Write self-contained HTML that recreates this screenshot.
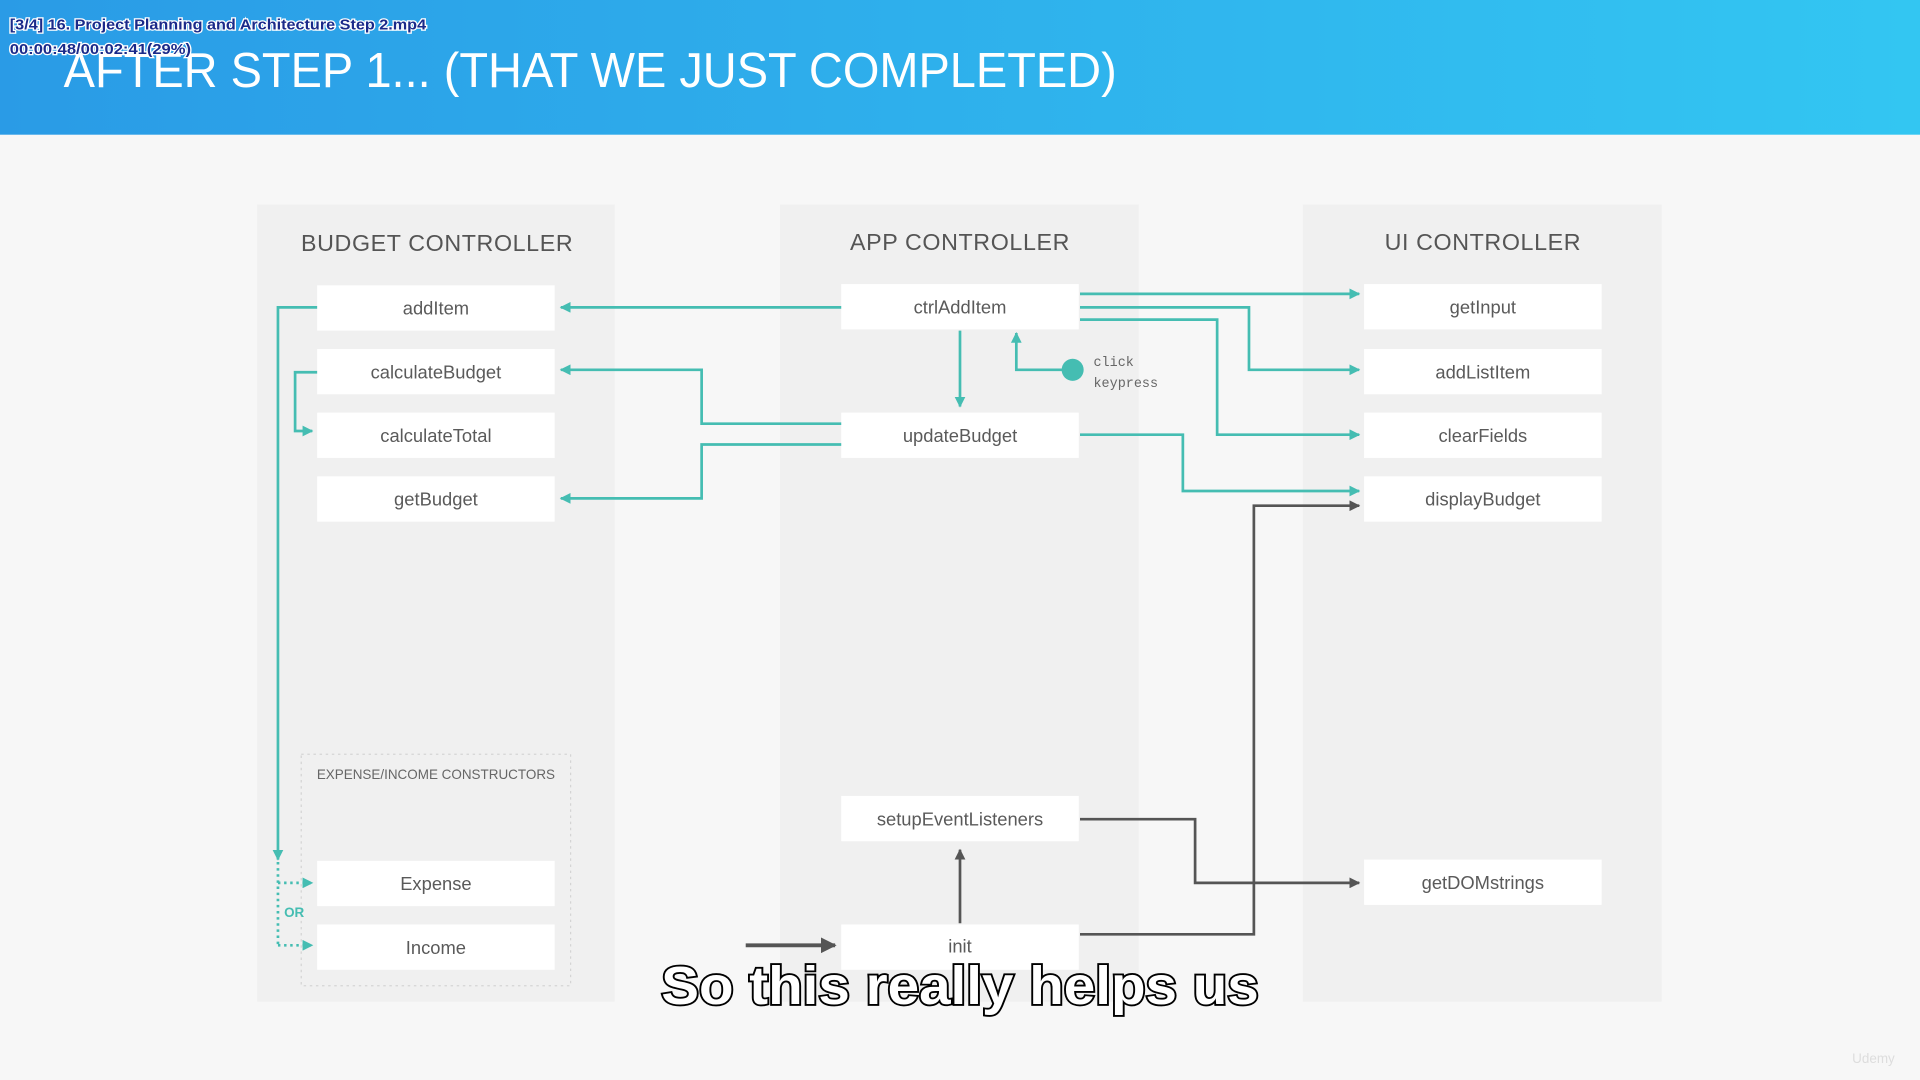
<!DOCTYPE html>
<html><head><meta charset="utf-8"><style>
html,body{margin:0;padding:0;width:1920px;height:1080px;overflow:hidden;background:#f7f7f7}
svg{display:block}
text{font-family:"Liberation Sans",sans-serif}
text.mono{font-family:"Liberation Mono",monospace}
</style></head><body>
<svg width="1920" height="1080" viewBox="0 0 1568 882" xmlns="http://www.w3.org/2000/svg">
<defs>
<linearGradient id="hg" x1="0" x2="1" y1="0" y2="0"><stop offset="0" stop-color="#2a9be6"/><stop offset="1" stop-color="#33c6f2"/></linearGradient>
<marker id="at" viewBox="0 0 10 10" refX="9" refY="5" markerWidth="4" markerHeight="4" orient="auto"><path d="M0,0L10,5L0,10z" fill="#45bdb2"/></marker>
<marker id="ad" viewBox="0 0 10 10" refX="9" refY="5" markerWidth="4" markerHeight="4" orient="auto"><path d="M0,0L10,5L0,10z" fill="#555"/></marker>
</defs>
<rect width="1568" height="882" fill="#f7f7f7"/>
<rect width="1568" height="110" fill="url(#hg)"/>
<text x="52" y="71" font-size="40" fill="#fff" textLength="860" lengthAdjust="spacingAndGlyphs">AFTER STEP 1... (THAT WE JUST COMPLETED)</text>
<g font-size="12" font-weight="bold" fill="#1a2a8a" stroke="#fff" stroke-width="2" paint-order="stroke">
<text x="8" y="24" textLength="340" lengthAdjust="spacingAndGlyphs">[3/4] 16. Project Planning and Architecture Step 2.mp4</text>
<text x="8" y="44" textLength="148" lengthAdjust="spacingAndGlyphs">00:00:48/00:02:41(29%)</text>
</g>
<rect x="210" y="167" width="292" height="651" fill="#f0f0f0"/>
<rect x="637" y="167" width="293" height="651" fill="#f0f0f0"/>
<rect x="1064" y="167" width="293" height="651" fill="#f0f0f0"/>
<g font-size="19" fill="#555" text-anchor="middle" letter-spacing="0.5">
<text x="357" y="205">BUDGET CONTROLLER</text>
<text x="784" y="204">APP CONTROLLER</text>
<text x="1211" y="204">UI CONTROLLER</text>
</g>
<rect x="246" y="616" width="220" height="189" fill="none" stroke="#d4d4d4" stroke-dasharray="2,3"/>
<text x="356" y="636" font-size="11" fill="#666" text-anchor="middle">EXPENSE/INCOME CONSTRUCTORS</text>
<g fill="#fff">
<rect x="259" y="233" width="194" height="37"/><rect x="259" y="285" width="194" height="37"/>
<rect x="259" y="337" width="194" height="37"/><rect x="259" y="389" width="194" height="37"/>
<rect x="259" y="703" width="194" height="37"/><rect x="259" y="755" width="194" height="37"/>
<rect x="687" y="232" width="194" height="37"/><rect x="687" y="337" width="194" height="37"/>
<rect x="687" y="650" width="194" height="37"/><rect x="687" y="755" width="194" height="37"/>
<rect x="1114" y="232" width="194" height="37"/><rect x="1114" y="285" width="194" height="37"/>
<rect x="1114" y="337" width="194" height="37"/><rect x="1114" y="389" width="194" height="37"/>
<rect x="1114" y="702" width="194" height="37"/>
</g>
<g font-size="15" fill="#5a5a5a" text-anchor="middle">
<text x="356" y="257">addItem</text><text x="356" y="309">calculateBudget</text>
<text x="356" y="361">calculateTotal</text><text x="356" y="413">getBudget</text>
<text x="356" y="727">Expense</text><text x="356" y="779">Income</text>
<text x="784" y="256">ctrlAddItem</text><text x="784" y="361">updateBudget</text>
<text x="784" y="674">setupEventListeners</text><text x="784" y="778">init</text>
<text x="1211" y="256">getInput</text><text x="1211" y="309">addListItem</text>
<text x="1211" y="361">clearFields</text><text x="1211" y="413">displayBudget</text>
<text x="1211" y="726">getDOMstrings</text>
</g>
<g stroke="#45bdb2" stroke-width="2.2" fill="none">
<path d="M687,251H458" marker-end="url(#at)"/>
<path d="M259,251H227V702" marker-end="url(#at)"/>
<path d="M259,304H241V352H255" marker-end="url(#at)"/>
<path d="M687,346H573V302H458" marker-end="url(#at)"/>
<path d="M687,363H573V407H458" marker-end="url(#at)"/>
<path d="M784,270V332" marker-end="url(#at)"/>
<path d="M870,302H830V272" marker-end="url(#at)"/>
<path d="M882,240H1110" marker-end="url(#at)"/>
<path d="M882,251H1020V302H1110" marker-end="url(#at)"/>
<path d="M882,261H994V355H1110" marker-end="url(#at)"/>
<path d="M882,355H966V401H1110" marker-end="url(#at)"/>
<path d="M227,704V772" stroke-dasharray="2,3"/>
<path d="M227,721H255" stroke-dasharray="2,3" marker-end="url(#at)"/>
<path d="M227,772H255" stroke-dasharray="2,3" marker-end="url(#at)"/>
</g>
<circle cx="876" cy="302" r="9" fill="#45bdb2"/>
<text class="mono" x="893" y="299" font-size="11" fill="#666">click</text>
<text class="mono" x="893" y="316" font-size="11" fill="#666">keypress</text>
<text x="232" y="749" font-size="11" font-weight="bold" fill="#45bdb2">OR</text>
<g stroke="#555" stroke-width="2.2" fill="none">
<path d="M882,669H976V721H1110" marker-end="url(#ad)"/>
<path d="M882,763H1024V413H1110" marker-end="url(#ad)"/>
<path d="M784,754V694" marker-end="url(#ad)"/>
<path d="M609,772H682" stroke-width="3.2" marker-end="url(#ad)"/>
</g>
<text x="784" y="820" font-size="44" font-weight="bold" fill="#fff" stroke="#000" stroke-width="3" paint-order="stroke" text-anchor="middle" textLength="488" lengthAdjust="spacingAndGlyphs">So this really helps us</text>
<text x="1530" y="868" font-size="11" fill="#ddd" text-anchor="middle">Udemy</text>
</svg>
</body></html>
